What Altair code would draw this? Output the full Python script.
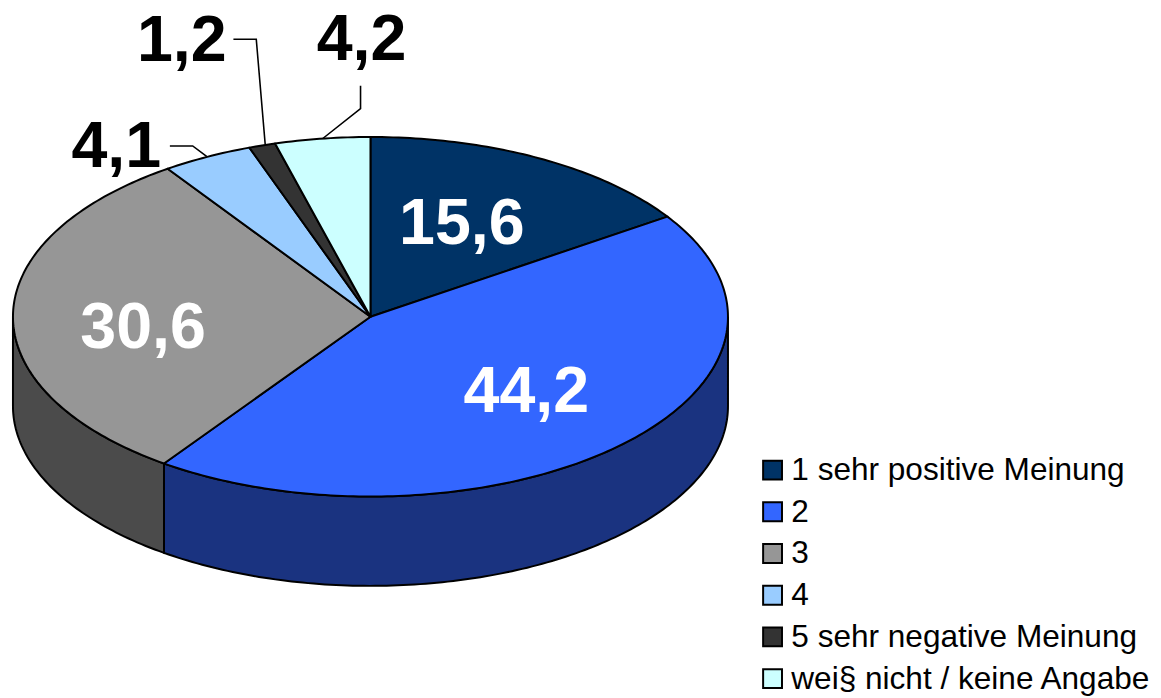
import math
import altair as alt
import pandas as pd

categories = ["1 sehr positive Meinung", "2", "3", "4", "5 sehr negative Meinung", "wei§ nicht / keine Angabe"]
shares = [15.6, 44.2, 30.6, 4.1, 1.2, 4.2]
labels = ["15,6", "44,2", "30,6", "4,1", "1,2", "4,2"]
colors = ["#003366", "#3366FF", "#969696", "#99CCFF", "#333333", "#CCFFFF"]
side_colors = {"2": "#1A3380", "3": "#4B4B4B"}

label_x = [465, 530, 144, 117, 183, 364]
label_y = [243, 412, 348, 166, 59, 58]
label_colors = ["white", "white", "white", "black", "black", "black"]

leaders = [
    [[171, 144.5], [194, 144.5], [208, 155]],
    [[235, 37], [258, 37], [267, 143]],
    [[363, 84], [363, 107], [325, 137]],
]

CX, CY, RX, RY, DEPTH = 373, 316.5, 360, 181, 90


def point(frac, dy=0):
    a = 2 * math.pi * frac
    return [CX + RX * math.sin(a), CY - RY * math.cos(a) + dy]


def arc(f0, f1):
    n = max(2, int(abs(f1 - f0) * 400))
    return [point(f0 + (f1 - f0) * i / n) for i in range(n + 1)]


total = 100.0
bounds = [0.0]
for s in shares:
    bounds.append(bounds[-1] + s / total)
bounds[-1] = 1.0

top = []
for i, name in enumerate(categories):
    ring = [[CX, CY]] + arc(bounds[i], bounds[i + 1]) + [[CX, CY]]
    top.append({"type": "Feature", "properties": {"name": name},
                "geometry": {"type": "Polygon", "coordinates": [ring]}})


def side(f0, f1):
    up = arc(f0, f1)
    down = [[x, y + DEPTH] for x, y in reversed(up)]
    ring = up + down + [up[0]]
    return {"type": "Feature", "properties": {},
            "geometry": {"type": "Polygon", "coordinates": [ring]}}


proj = dict(type="identity", scale=1, translate=[-8, -8])

side_blue = alt.Chart(alt.Data(values=[side(0.25, bounds[2])])).mark_geoshape(
    fill=side_colors["2"], stroke="black", strokeWidth=2).project(**proj)
side_grey = alt.Chart(alt.Data(values=[side(bounds[2], 0.75)])).mark_geoshape(
    fill=side_colors["3"], stroke="black", strokeWidth=2).project(**proj)

slices = alt.Chart(alt.Data(values=top)).mark_geoshape(
    stroke="black", strokeWidth=2, strokeJoin="round").encode(
    fill=alt.Fill(
        "properties.name:N",
        scale=alt.Scale(domain=categories, range=colors),
        legend=alt.Legend(
            title=None, orient="none", legendX=754, legendY=447,
            symbolType="square", symbolSize=361, symbolStrokeColor="black",
            symbolStrokeWidth=2, labelFontSize=31.8, labelFont="Liberation Sans",
            labelColor="black", labelOffset=3, rowPadding=9, labelLimit=500,
            padding=0, symbolOffset=0,
        ),
    )
).project(**proj)

lines = alt.Chart(alt.Data(values=[
    {"type": "Feature", "properties": {},
     "geometry": {"type": "LineString", "coordinates": c}} for c in leaders
])).mark_geoshape(filled=False, stroke="black", strokeWidth=1.6).project(**proj)

df = pd.DataFrame({"x": label_x, "y": label_y, "label": labels, "c": label_colors})
text = alt.Chart(df).mark_text(
    font="Liberation Sans", fontWeight="bold", fontSize=65, align="center", baseline="alphabetic"
).encode(
    longitude="x:Q", latitude="y:Q", text="label:N", color=alt.Color("c:N", scale=None)
).project(**proj)

chart = alt.layer(side_blue, side_grey, slices, lines, text).properties(
    width=1153, height=690, padding=0,
    autosize=alt.AutoSizeParams(type="none"),
).configure_view(stroke=None)

chart.save("out.html", embed_options={"renderer": "svg", "actions": False})
